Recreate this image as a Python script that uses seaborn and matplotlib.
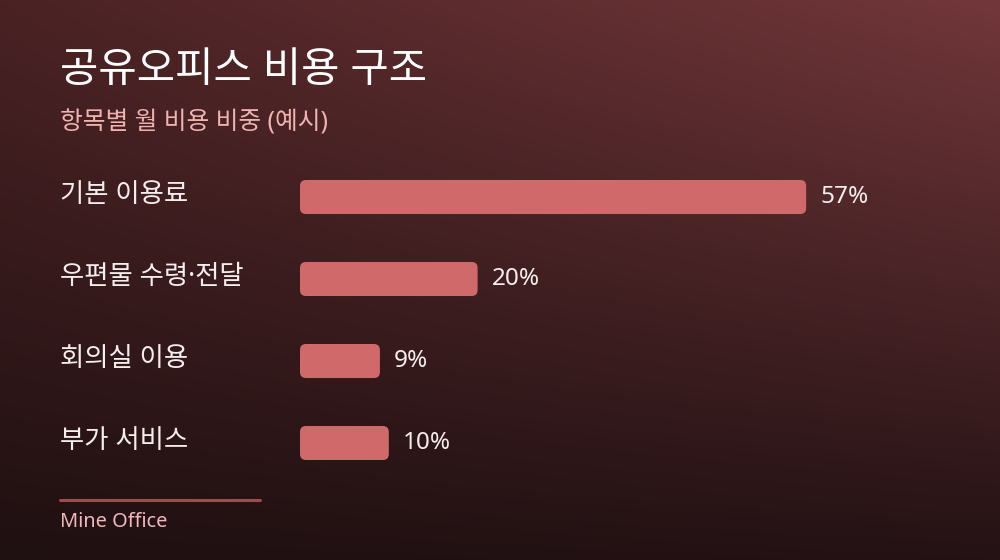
import numpy as np
import pandas as pd
import matplotlib
matplotlib.use('Agg')
import matplotlib.pyplot as plt
import matplotlib.transforms as mtransforms
from matplotlib.patches import FancyBboxPatch
import seaborn as sns

categories = ['기본 이용료', '우편물 수령·전달', '회의실 이용', '부가 서비스']
shares = [57, 20, 9, 10]

title = '공유오피스 비용 구조'
subtitle = '항목별 월 비용 비중 (예시)'
footer = 'Mine Office'

sns.set_theme(style='white')
plt.rcParams['font.family'] = ['Noto Sans', 'Noto Sans CJK KR', 'DejaVu Sans']

df = pd.DataFrame({'item': categories, 'share': shares})

fig = plt.figure(figsize=(10, 5.6), dpi=100)

# background gradient (corners: tl, tr, bl, br)
bg = fig.add_axes([0, 0, 1, 1], zorder=-10)
tl = np.array([0x4a, 0x22, 0x24]) / 255
tr = np.array([0x72, 0x37, 0x3a]) / 255
bl = np.array([0x1f, 0x10, 0x11]) / 255
br = np.array([0x24, 0x12, 0x14]) / 255
h, w = 140, 250
yy, xx = np.mgrid[0:1:h * 1j, 0:1:w * 1j]
xx = xx[..., None]
yy = yy[..., None]
grad = (tl * (1 - xx) * (1 - yy) + tr * xx * (1 - yy)
        + bl * (1 - xx) * yy + br * xx * yy)
bg.imshow(grad, extent=[0, 1, 0, 1], aspect='auto', interpolation='bilinear')
bg.set_axis_off()

ax = fig.add_axes([0.30, 1 - 484 / 560, 0.56, 328 / 560])
ax.patch.set_alpha(0)
sns.barplot(data=df, x='share', y='item', orient='h', color='#d06a6a',
            width=0.415, saturation=1, ax=ax)
ax.set_xlim(0, 560 / 8.88)
ax.set_ylim(3.5, -0.5)

# rounded bars
px_x = 560 / ax.get_xlim()[1]
px_y = 82
for p in list(ax.patches):
    x0, y0 = p.get_x(), p.get_y()
    bw, bh = p.get_width(), p.get_height()
    r = 6 / px_x
    fb = FancyBboxPatch((x0, y0), bw, bh,
                        boxstyle=f'round,pad=0,rounding_size={r}',
                        mutation_aspect=px_x / px_y,
                        facecolor='#d06a6a', edgecolor='none')
    p.remove()
    ax.add_patch(fb)

for i, v in enumerate(shares):
    ax.annotate(f'{v}%', xy=(v, i), xytext=(10, 0), textcoords='offset points',
                va='center', ha='left', fontsize=17.5, color='#f6eeee')

trans = mtransforms.blended_transform_factory(fig.transFigure, ax.transData)
for i, c in enumerate(categories):
    ax.text(0.06, i - 0.02, c, transform=trans, va='center', ha='left',
            fontsize=19, color='#f6eeee')

ax.set_xlabel('')
ax.set_ylabel('')
ax.set_xticks([])
ax.set_yticks([])
sns.despine(ax=ax, left=True, bottom=True)

fig.text(0.06, 1 - 71 / 560, title, fontsize=30, fontweight='medium',
         color='white', va='center', ha='left')
fig.text(0.06, 1 - 123 / 560, subtitle, fontsize=17.8, color='#f0b4b0',
         va='center', ha='left')

fig.add_artist(plt.Line2D([0.06, 0.26], [1 - 500 / 560] * 2,
                          transform=fig.transFigure, color='#a8474d', lw=2.2))
fig.text(0.06, 1 - 522 / 560, footer, fontsize=14.4, color='#f0b8b8',
         va='center', ha='left')

fig.savefig('out.png', dpi=100)
